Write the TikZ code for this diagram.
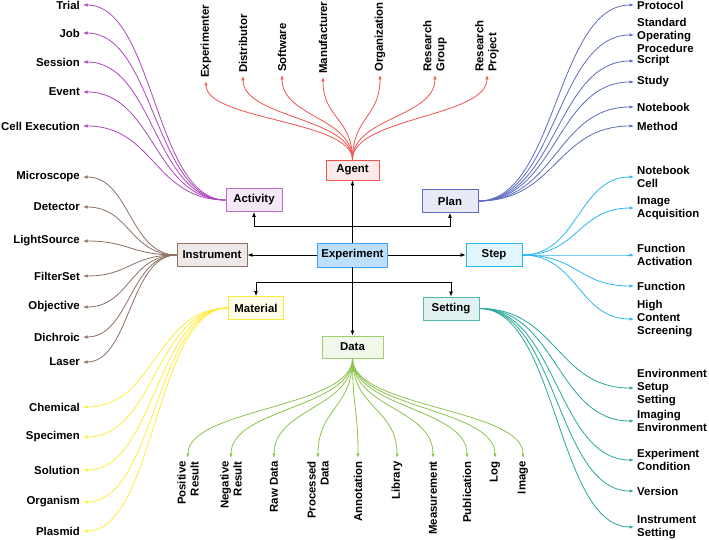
\documentclass[tikz,border=0pt]{standalone}
\usepackage{fontspec}
\setmainfont{Liberation Sans}
\usetikzlibrary{arrows.meta,calc}

\definecolor{actc}{HTML}{AB47BC}
\definecolor{agtc}{HTML}{EF5350}
\definecolor{plnc}{HTML}{5C6BC0}
\definecolor{stpc}{HTML}{29B6F6}
\definecolor{insc}{HTML}{8D6E63}
\definecolor{matc}{HTML}{FFEB3B}
\definecolor{setc}{HTML}{26A69A}
\definecolor{datc}{HTML}{8BC34A}
\definecolor{expc}{HTML}{42A5F5}

\newcommand\lbl{\fontsize{11.4}{13}\selectfont\bfseries}

\tikzset{
  box/.style={draw,line width=0.9pt,minimum width=56pt,minimum height=23pt,inner xsep=4pt,font=\lbl},
  leaf/.style={inner xsep=3pt,inner ysep=1pt,font=\lbl},
  link/.style={-{Latex[length=5pt,width=4pt]},line width=0.8pt},
  fan/.style={-{Latex[length=4.5pt,width=3.5pt]},line width=0.8pt},
  % horizontal and vertical fan curves, controls at the middle
  hcurve/.style={to path={let \p1=(\tikztostart),\p2=(\tikztotarget) in
    .. controls ({(\x1+\x2)/2},\y1) and ({(\x1+\x2)/2},\y2) .. (\tikztotarget)}},
  vcurve/.style={to path={let \p1=(\tikztostart),\p2=(\tikztotarget) in
    .. controls (\x1,{(\y1+\y2)/2}) and (\x2,{(\y1+\y2)/2}) .. (\tikztotarget)}},
}

\begin{document}
\begin{tikzpicture}[x=1pt,y=1pt]
  \useasboundingbox (0,0) rectangle (709,-540);

  % hub and its classes
  \node[box,draw=expc,fill=expc!35,minimum width=69pt,minimum height=24pt] (exp) at (352.5,-255) {Experiment};
  \node[box,draw=agtc,fill=agtc!12,minimum width=53pt,minimum height=20pt] (agent) at (352.5,-170) {Agent};
  \node[box,draw=actc!80,fill=actc!12] (activity) at (254,-200) {Activity};
  \node[box,draw=plnc,fill=plnc!14] (plan) at (450,-201) {Plan};
  \node[box,draw=insc,fill=insc!15,minimum width=70pt] (instr) at (212,-255) {Instrument};
  \node[box,draw=stpc,fill=stpc!14] (step) at (494,-255) {Step};
  \node[box,draw=matc,fill=matc!12,minimum width=55pt] (material) at (256,-308) {Material};
  \node[box,draw=setc!80,fill=setc!14] (setting) at (451,-308.5) {Setting};
  \node[box,draw=datc!80,fill=datc!12,minimum width=61pt,minimum height=22pt] (data) at (352.5,-347) {Data};

  \coordinate (up) at (352.5,-226);
  \coordinate (down) at (352.5,-282);
  \draw[link] (exp.north) -- (agent.south);
  \draw[link] (up) -| (activity.south);
  \draw[link] (up) -| (plan.south);
  \draw[link] (exp.west) -- (instr.east);
  \draw[link] (exp.east) -- (step.west);
  \draw[link] (exp.south) -- (data.north);
  \draw[link] (down) -| (material.north);
  \draw[link] (down) -| (setting.north);

  % Activity
  \foreach \nm/\pos/\t in {trial/5/Trial,job/33/Job,session/62/Session,event/92/Event,cellex/126/Cell Execution}{
    \node[leaf,anchor=east] (\nm) at (83,-\pos) {\t};
    \draw[fan,actc] (activity.west) to[hcurve] (\nm.east);
  }
  % Instrument
  \foreach \nm/\pos/\t in {micro/177/Microscope,detect/207/Detector,light/241/LightSource,filter/276/FilterSet,
      object/307/Objective,dichro/337/Dichroic,laser/362/Laser}{
    \node[leaf,anchor=east] (\nm) at (83,-\pos) {\t};
    \draw[fan,insc] (instr.west) to[hcurve] (\nm.east);
  }
  % Material
  \foreach \nm/\pos/\t in {chem/407/Chemical,specimen/437/Specimen,solution/470/Solution,organism/502/Organism,plasmid/531/Plasmid}{
    \node[leaf,anchor=east] (\nm) at (83,-\pos) {\t};
    \draw[fan,matc] (material.west) to[hcurve] (\nm.east);
  }
  % Plan
  \foreach \nm/\pos/\t in {protocol/5/Protocol,sop/35/{Standard\\Operating\\Procedure},script/61/Script,
      study/82/Study,notebook/107/Notebook,method/126/Method}{
    \node[leaf,anchor=west,align=left] (\nm) at (634,-\pos) {\t};
    \draw[fan,plnc] (plan.east) to[hcurve] (\nm.west);
  }
  % Step
  \foreach \nm/\pos/\t in {nbcell/177/{Notebook\\Cell},imgacq/208/{Image\\Acquisition},fnact/255/{Function\\Activation},
      func/286/Function,hcs/319/{High\\Content\\Screening}}{
    \node[leaf,anchor=west,align=left] (\nm) at (634,-\pos) {\t};
    \draw[fan,stpc] (step.east) to[hcurve] (\nm.west);
  }
  % Setting
  \foreach \nm/\pos/\t in {envset/388/{Environment\\Setup\\Setting},imgenv/421/{Imaging\\Environment},
      expcond/460/{Experiment\\Condition},version/491/Version,instset/527/{Instrument\\Setting}}{
    \node[leaf,anchor=west,align=left] (\nm) at (634,-\pos) {\t};
    \draw[fan,setc] (setting.east) to[hcurve] (\nm.west);
  }
  % Agent
  \foreach \nm/\pos/\tip/\t in {experimenter/206/81/Experimenter,distrib/243/76/Distributor,software/282/75/Software,
      manuf/323/77/Manufacturer,organiz/380/75/Organization,resgroup/435/75/{Research\\Group},resproj/487/75/{Research\\Project}}{
    \node[leaf,rotate=90,anchor=west,align=left] (\nm) at (\pos,-\tip) {\t};
    \draw[fan,agtc] (agent.north) to[vcurve] (\nm.west);
  }
  % Data
  \foreach \nm/\pos/\t in {posres/188/{Positive\\Result},negres/231/{Negative\\Result},rawdata/274/Raw Data,
      procdata/318/{Processed\\Data},annot/358/Annotation,library/397/Library,measure/433/Measurement,
      public/467/Publication,log/495/Log,image/523/Image}{
    \node[leaf,rotate=90,anchor=east,align=right] (\nm) at (\pos,-458) {\t};
    \draw[fan,datc] (data.south) to[vcurve] (\nm.east);
  }
\end{tikzpicture}
\end{document}
